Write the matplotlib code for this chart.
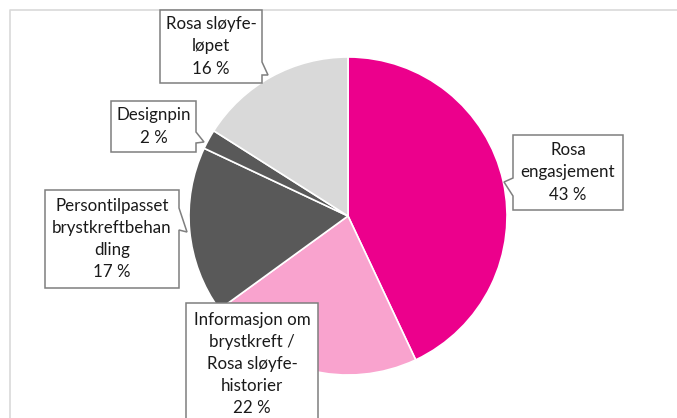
import matplotlib.pyplot as plt
from matplotlib.patches import Polygon

# data
labels = ["Rosa\nengasjement", "Informasjon om\nbrystkreft /\nRosa sløyfe-\nhistorier",
          "Persontilpasset\nbrystkreftbehan\ndling", "Designpin", "Rosa sløyfe-\nløpet"]
shares = [43, 22, 17, 2, 16]
colors = ["#EC008C", "#F9A3CE", "#595959", "#595959", "#D9D9D9"]

W, H = 677, 418
fig = plt.figure(figsize=(W / 100, H / 100), dpi=100)
ax = fig.add_axes([0, 0, 1, 1])

# chart frame (only top and left visible)
ax.plot([10, 10, W], [0, H - 10, H - 10], color="#D9D9D9", lw=1.2)

ax.pie(shares, colors=colors, startangle=90, counterclock=False,
       center=(348, H - 216), radius=159, frame=True,
       wedgeprops=dict(edgecolor="white", linewidth=1.2))
ax.set_xlim(0, W)
ax.set_ylim(0, H)
ax.axis("off")


def callout(box, tail, text):
    # box: (left, top, right, bottom) in pixel coords (y down)
    # tail: (side, base1, base2, tip) pixel coords
    l, t, r, b = box
    side, b1, b2, tip = tail
    if side == "right":
        pts = [(l, t), (r, t), (r, b1), tip, (r, b2), (r, b), (l, b)]
    elif side == "left":
        pts = [(l, t), (r, t), (r, b), (l, b), (l, b2), tip, (l, b1)]
    else:
        pts = [(l, t), (r, t), (r, b), (l, b)]
    pts = [(x, H - y) for x, y in pts]
    ax.add_patch(Polygon(pts, closed=True, fc="white", ec="#7F7F7F", lw=1.1, zorder=5))
    return ax.text((l + r) / 2, H - (t + min(b, H)) / 2, text, ha="center", va="center",
                   fontsize=12.2, family="Lato", linespacing=1.48, zorder=6,
                   color="#1a1a1a")


callout((513, 135, 623, 210), ("left", 178, 196, (504, 182)),
        f"{labels[0]}\n{shares[0]} %")
callout((186, 303, 318, 440), (None, 0, 0, None),
        f"{labels[1]}\n{shares[1]} %").set_y(H - 364)
callout((45, 190, 179, 288), ("right", 208, 230, (187, 232)),
        f"{labels[2]}\n{shares[2]} %")
callout((111, 101, 196, 152), ("right", 132, 143, (204, 142)),
        f"{labels[3]}\n{shares[3]} %")
callout((160, 10, 262, 83), ("right", 62, 75, (268, 75)),
        f"{labels[4]}\n{shares[4]} %")

fig.savefig("out.png", dpi=100)
